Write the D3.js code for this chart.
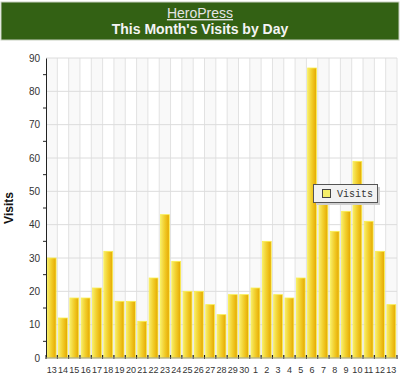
<!DOCTYPE html>
<html>
<head>
<meta charset="utf-8">
<script src="https://cdn.jsdelivr.net/npm/d3@7"></script>
<style>
  body { margin: 0; background: #fff; }
  text { font-family: "Liberation Sans", Arial, sans-serif; }
</style>
</head>
<body>
<div id="container"></div>
<script>
/* CONSTANTS AND GLOBALS */
const width = 400,
  height = 377,
  margin = {top: 58, bottom: 19, left: 46, right: 3};

/* DATA */
const days = ["13","14","15","16","17","18","19","20","21","22","23","24","25","26","27","28","29","30",
  "1","2","3","4","5","6","7","8","9","10","11","12","13"];
const visits = [30,12,18,18,21,32,17,17,11,24,43,29,20,20,16,13,19,19,
  21,35,19,18,24,87,47,38,44,59,41,32,16];
const yTicks = [0,10,20,30,40,50,60,70,80,90];

const data = days.map((d, i) => ({ key: i, day: d, value: visits[i] }));

/* SCALES */
const xScale = d3.scaleBand()
  .domain(data.map(d => d.key))
  .range([margin.left, width - margin.right])
  .paddingInner(0.22)
  .paddingOuter(0.11);

const yScale = d3.scaleLinear()
  .domain([0, 90])
  .range([height - margin.bottom, margin.top]);

const svg = d3.select("#container")
  .append("svg")
  .attr("width", width)
  .attr("height", height);

const defs = svg.append("defs");
const grad = defs.append("linearGradient")
  .attr("id", "barGrad")
  .attr("x1", "0%").attr("x2", "100%").attr("y1", "0%").attr("y2", "0%");
grad.append("stop").attr("offset", "0%").attr("stop-color", "#f7ec6a");
grad.append("stop").attr("offset", "45%").attr("stop-color", "#f2cf2c");
grad.append("stop").attr("offset", "100%").attr("stop-color", "#e5a800");

/* TITLE BANNER */
svg.append("rect")
  .attr("x", 1).attr("y", 2)
  .attr("width", 398).attr("height", 38)
  .attr("fill", "#336114")
  .attr("stroke", "#c8d0c0")
  .attr("stroke-width", 1);

svg.append("text")
  .attr("x", 200).attr("y", 18)
  .attr("text-anchor", "middle")
  .attr("font-size", 14)
  .attr("fill", "#e4e4e4")
  .attr("text-decoration", "underline")
  .text("HeroPress");

svg.append("text")
  .attr("x", 200).attr("y", 34)
  .attr("text-anchor", "middle")
  .attr("font-size", 14)
  .attr("font-weight", "bold")
  .attr("fill", "#f4f4f4")
  .text("This Month's Visits by Day");

/* PLOT BACKGROUND AND GRID */
const step = xScale.step();
const x0 = margin.left;
const plotRight = width - margin.right;

svg.append("rect")
  .attr("x", x0).attr("y", margin.top)
  .attr("width", plotRight - x0)
  .attr("height", yScale(0) - margin.top)
  .attr("fill", "#fff");

svg.selectAll(".stripe")
  .data(data.filter(d => d.key % 2 === 0))
  .join("rect")
  .attr("class", "stripe")
  .attr("x", d => x0 + d.key * step)
  .attr("y", margin.top)
  .attr("width", step)
  .attr("height", yScale(0) - margin.top)
  .attr("fill", "#f9f9f9");

svg.selectAll(".vgrid")
  .data(d3.range(1, data.length + 1))
  .join("line")
  .attr("class", "vgrid")
  .attr("x1", i => x0 + i * step).attr("x2", i => x0 + i * step)
  .attr("y1", margin.top).attr("y2", yScale(0))
  .attr("stroke", "#e2e2e2");

svg.selectAll(".hgrid")
  .data(yTicks.slice(1))
  .join("line")
  .attr("class", "hgrid")
  .attr("x1", x0).attr("x2", plotRight)
  .attr("y1", d => yScale(d)).attr("y2", d => yScale(d))
  .attr("stroke", "#dcdcdc");

// floor strip under the bars
svg.append("rect")
  .attr("x", x0).attr("y", yScale(0) - 3)
  .attr("width", plotRight - x0).attr("height", 3)
  .attr("fill", "#c9c9c9");

/* BARS */
svg.selectAll(".bar")
  .data(data)
  .join("rect")
  .attr("class", "bar")
  .attr("x", d => xScale(d.key))
  .attr("y", d => yScale(d.value))
  .attr("width", xScale.bandwidth())
  .attr("height", d => yScale(0) - yScale(d.value))
  .attr("fill", "url(#barGrad)")
  .attr("stroke", "#f9ef50")
  .attr("stroke-width", 0.8);

/* AXES */
const yAxis = d3.axisLeft(yScale)
  .tickValues(yTicks)
  .tickSize(0)
  .tickPadding(6);

svg.append("g")
  .attr("transform", `translate(${x0},0)`)
  .call(yAxis)
  .call(g => g.select(".domain").attr("stroke", "#222"))
  .call(g => g.selectAll("text")
    .style("font-family", "'Liberation Sans', Arial, sans-serif")
    .style("font-size", "10px")
    .attr("fill", "#333"));

// minor ticks every 5
svg.selectAll(".minor")
  .data(d3.range(5, 90, 10))
  .join("line")
  .attr("class", "minor")
  .attr("x1", x0 - 3).attr("x2", x0)
  .attr("y1", d => yScale(d)).attr("y2", d => yScale(d))
  .attr("stroke", "#222");

const xAxis = d3.axisBottom(xScale)
  .tickFormat(i => days[i])
  .tickSize(0)
  .tickPadding(9);

svg.append("g")
  .attr("transform", `translate(0,${yScale(0)})`)
  .call(xAxis)
  .call(g => g.select(".domain").remove())
  .call(g => g.selectAll("text")
    .style("font-family", "'Liberation Sans', Arial, sans-serif")
    .style("font-size", "9px")
    .attr("fill", "#333"));

svg.selectAll(".xtick")
  .data(d3.range(0, data.length + 1))
  .join("line")
  .attr("class", "xtick")
  .attr("x1", i => x0 + i * step).attr("x2", i => x0 + i * step)
  .attr("y1", yScale(0) - 3).attr("y2", yScale(0) + 1)
  .attr("stroke", "#111");

svg.append("line")
  .attr("x1", x0).attr("x2", plotRight)
  .attr("y1", yScale(0)).attr("y2", yScale(0))
  .attr("stroke", "#999");

svg.append("text")
  .attr("transform", `translate(13,${(margin.top + yScale(0)) / 2}) rotate(-90)`)
  .attr("text-anchor", "middle")
  .attr("font-size", 12)
  .attr("font-weight", "bold")
  .attr("fill", "#111")
  .text("Visits");

/* LEGEND */
const legend = svg.append("g").attr("transform", "translate(313,184)");
legend.append("rect")
  .attr("x", 3).attr("y", 3).attr("width", 64).attr("height", 18)
  .attr("fill", "#cfcfcf");
legend.append("rect")
  .attr("x", 0.5).attr("y", 0.5).attr("width", 64).attr("height", 18)
  .attr("fill", "#f2f2f2")
  .attr("stroke", "#555");
legend.append("rect")
  .attr("x", 9.5).attr("y", 5.5).attr("width", 8).attr("height", 8)
  .attr("fill", "#f4ee6a")
  .attr("stroke", "#444");
legend.append("text")
  .attr("x", 24).attr("y", 13)
  .style("font-family", "'Liberation Mono', 'DejaVu Sans Mono', monospace")
  .style("font-size", "10px")
  .attr("fill", "#333")
  .text("Visits");
</script>
</body>
</html>
